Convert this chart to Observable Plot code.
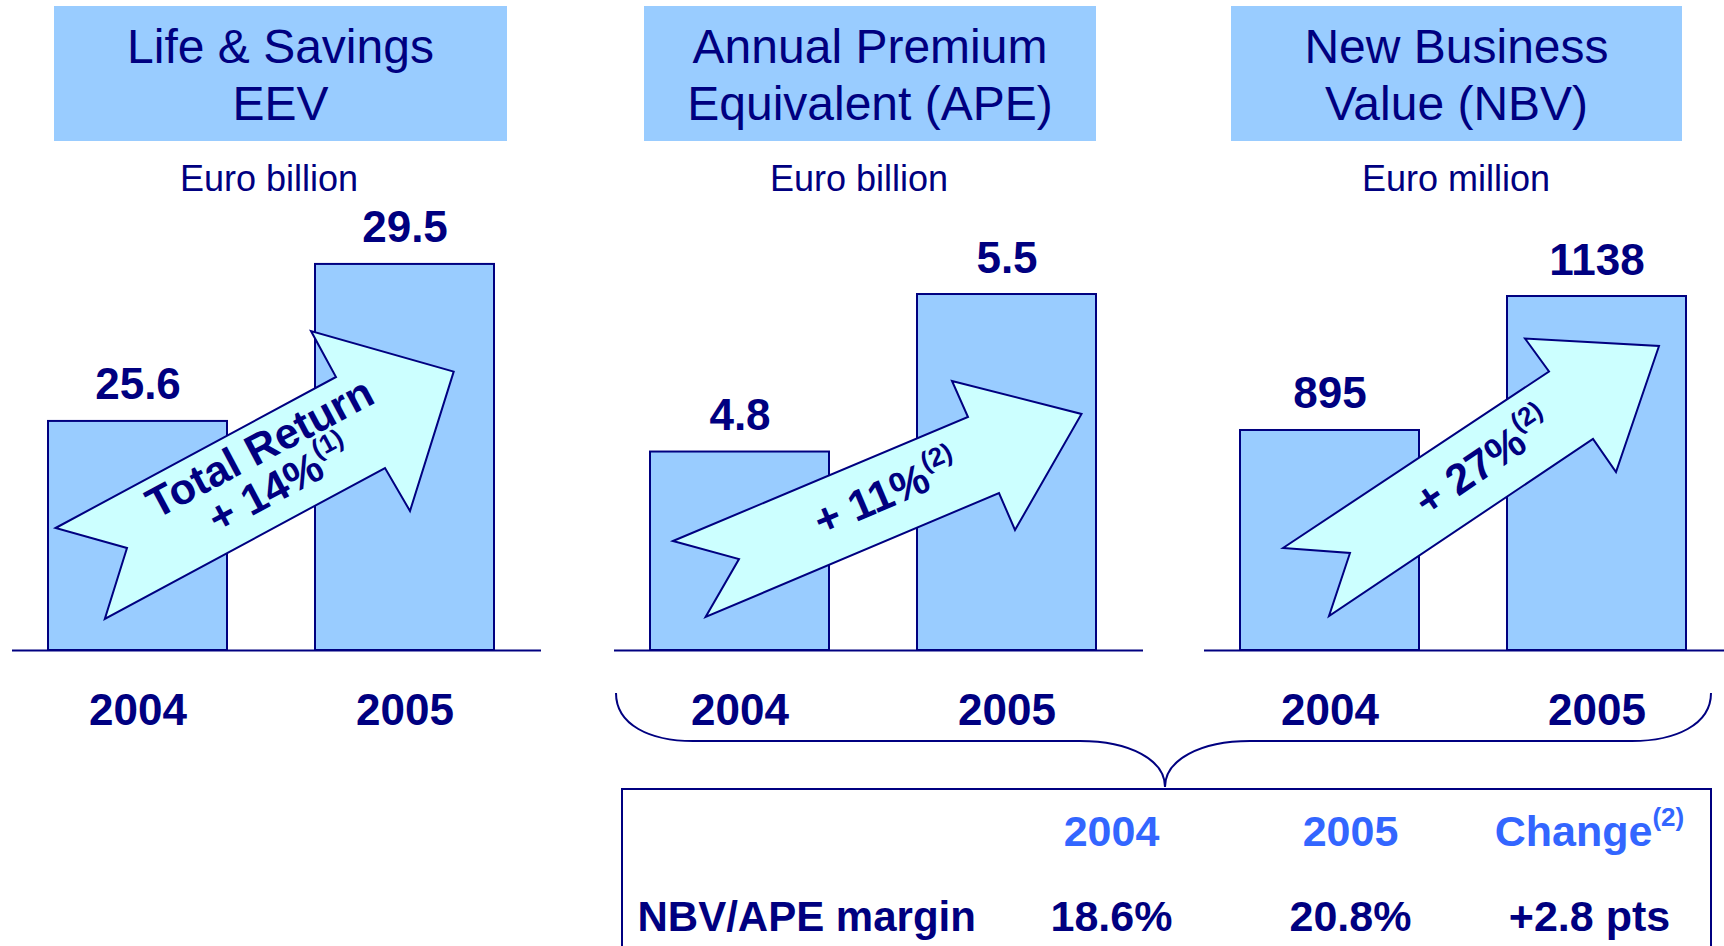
<!DOCTYPE html>
<html>
<head>
<meta charset="utf-8">
<script src="https://cdn.jsdelivr.net/npm/d3@7"></script>
<script src="https://cdn.jsdelivr.net/npm/@observablehq/plot@0.6"></script>
<style>
  html, body { margin: 0; padding: 0; background: #ffffff; }
  #root { position: relative; width: 1724px; height: 946px; overflow: hidden; background: #ffffff; }
  #root svg { position: absolute; }
</style>
</head>
<body>
<div id="root"></div>
<script>
// ---------------- DATA ----------------
const years = ["2004", "2005"];
const eevValues = [25.6, 29.5];      // Life & Savings EEV, Euro billion
const apeValues = [4.8, 5.5];        // Annual Premium Equivalent, Euro billion
const nbvValues = [895, 1138];       // New Business Value, Euro million
const panelTitles = [["Life & Savings", "EEV"], ["Annual Premium", "Equivalent (APE)"], ["New Business", "Value (NBV)"]];
const panelUnits = ["Euro billion", "Euro billion", "Euro million"];
const growthLines = [["Total Return", "+ 14%"], ["+ 11%"], ["+ 27%"]];
const growthNotes = ["(1)", "(2)", "(2)"];
const tableColumns = ["2004", "2005", "Change"];
const tableColumnNotes = ["", "", "(2)"];
const tableRowLabel = "NBV/APE margin";
const tableRowValues = ["18.6%", "20.8%", "+2.8 pts"];

// ---------------- STYLE / LAYOUT ----------------
const NAVY = "#000080", BAR = "#99CCFF", ARROW_FILL = "#CCFFFF", HEAD_BLUE = "#3366FF";
const FONT = '"Liberation Sans", Arial, Helvetica, sans-serif';
const PLOT_TOP = 150, PLOT_W = 529, PLOT_H = 600, PLOT_MB = 100;

const panels = [
  { values: eevValues, left: 12, yDomain: [19.91, 32.33], box: [54, 453], unitX: 269,
    arrow: [[55.6,528],[336,377],[311,331],[453.7,371.6],[410,511],[385,468],[104.8,619],[127,548]],
    label: { cx: 269.5, cy: 466, angle: -28 } },
  { values: apeValues, left: 613.5, yDomain: [3.918, 6.14], box: [644, 452], unitX: 859,
    arrow: [[673,541],[968,417],[952,381],[1081.5,414],[1015,530],[999,493],[705.6,617],[739,559]],
    label: { cx: 886, cy: 493, angle: -23 } },
  { values: nbvValues, left: 1204, yDomain: [496, 1402.8], box: [1231, 451], unitX: 1456,
    arrow: [[1283,548],[1549,371.5],[1525,338.5],[1659,346],[1616,472],[1593,439],[1329,616],[1350,553]],
    label: { cx: 1483, cy: 462, angle: -34 } }
];

const root = document.getElementById("root");

// ---------------- BAR PANELS (Observable Plot) ----------------
panels.forEach((p, i) => {
  const data = years.map((y, j) => ({ year: y, value: p.values[j] }));
  const base = p.yDomain[0];
  const chart = Plot.plot({
    width: PLOT_W, height: PLOT_H,
    marginTop: 0, marginBottom: PLOT_MB, marginLeft: 0, marginRight: 0,
    style: { background: "none", overflow: "visible", fontFamily: FONT },
    x: { domain: years, paddingInner: 0.328, paddingOuter: 0.153, align: 0.44, axis: null },
    y: { domain: p.yDomain, axis: null },
    marks: [
      Plot.barY(data, { x: "year", y1: base, y2: "value", fill: BAR, stroke: NAVY, strokeWidth: 2 }),
      Plot.ruleY([base], { stroke: NAVY, strokeWidth: 2 }),
      Plot.text(data, { x: "year", y: "value", text: d => String(d.value), dy: -22, lineAnchor: "bottom",
        fontSize: 44, fontWeight: "bold", fill: NAVY, fontFamily: FONT }),
      Plot.text(data, { x: "year", y: base, text: "year", dy: 74, lineAnchor: "bottom",
        fontSize: 44, fontWeight: "bold", fill: NAVY, fontFamily: FONT })
    ]
  });
  chart.style.left = p.left + "px";
  chart.style.top = PLOT_TOP + "px";
  root.appendChild(chart);
});

// ---------------- TABLE (Observable Plot) ----------------
const TABLE_LEFT = 622, TABLE_TOP = 786, TABLE_W = 1089, TABLE_H = 160;
const headData = tableColumns.map((c, i) => ({ row: "head", col: c, text: c }));
const valueData = tableColumns.map((c, i) => ({ row: "values", col: c, text: tableRowValues[i] }));
const table = Plot.plot({
  width: TABLE_W, height: TABLE_H, margin: 0,
  style: { background: "none", overflow: "visible", fontFamily: FONT },
  x: { type: "point", domain: tableColumns, range: [489, 967], padding: 0, axis: null },
  y: { type: "point", domain: ["head", "values"], range: [59, 144], padding: 0, axis: null },
  marks: [
    Plot.text(headData, { x: "col", y: "row", text: "text", lineAnchor: "bottom",
      fontSize: 43, fontWeight: "bold", fill: HEAD_BLUE, fontFamily: FONT, className: "table-head" }),
    Plot.text(valueData, { x: "col", y: "row", text: "text", lineAnchor: "bottom",
      fontSize: 43, fontWeight: "bold", fill: NAVY, fontFamily: FONT }),
    Plot.text([tableRowLabel], { frameAnchor: "left", y: () => "values", text: d => d, dx: 15,
      textAnchor: "start", lineAnchor: "bottom", fontSize: 42, fontWeight: "bold", fill: NAVY, fontFamily: FONT })
  ]
});
table.style.left = TABLE_LEFT + "px";
table.style.top = TABLE_TOP + "px";
root.appendChild(table);
// footnote superscripts on header cells
d3.select(table).selectAll("g.table-head text").each(function () {
  const idx = tableColumns.indexOf(this.textContent);
  if (idx >= 0 && tableColumnNotes[idx]) {
    d3.select(this).append("tspan").attr("font-size", 26).attr("dy", -20).text(tableColumnNotes[idx]);
  }
});

// ---------------- ANNOTATION OVERLAY ----------------
const ov = d3.select(root).append("svg")
  .attr("width", 1724).attr("height", 946)
  .style("left", "0px").style("top", "0px").style("pointer-events", "none")
  .attr("font-family", FONT);

panels.forEach((p, i) => {
  // title box
  ov.append("rect").attr("x", p.box[0]).attr("y", 6).attr("width", p.box[1]).attr("height", 135).attr("fill", BAR);
  panelTitles[i].forEach((line, k) => {
    ov.append("text").attr("x", p.box[0] + p.box[1] / 2).attr("y", 63 + k * 57)
      .attr("text-anchor", "middle").attr("font-size", 48).attr("fill", NAVY).text(line);
  });
  // unit
  ov.append("text").attr("x", p.unitX).attr("y", 191).attr("text-anchor", "middle")
    .attr("font-size", 36).attr("fill", NAVY).text(panelUnits[i]);
  // growth arrow
  ov.append("path").attr("d", d3.line()(p.arrow) + "Z")
    .attr("fill", ARROW_FILL).attr("stroke", NAVY).attr("stroke-width", 2).attr("stroke-linejoin", "miter");
  const g = ov.append("g").attr("transform", `translate(${p.label.cx},${p.label.cy}) rotate(${p.label.angle})`);
  const lines = growthLines[i], n = lines.length;
  lines.forEach((line, k) => {
    const t = g.append("text").attr("x", 0).attr("y", (k - (n - 1) / 2) * 42 + 15)
      .attr("text-anchor", "middle").attr("font-size", 43).attr("font-weight", "bold").attr("fill", NAVY).text(line);
    if (k === n - 1) t.append("tspan").attr("font-size", 26).attr("dy", -20).text(growthNotes[i]);
  });
});

// brace joining APE and NBV
ov.append("path")
  .attr("d", "M616,693 C616,725 650,741 693,741 L1080,741 C1130,741 1165,760 1165,787 C1165,760 1200,741 1250,741 L1632,741 C1675,741 1711,725 1711,693")
  .attr("fill", "none").attr("stroke", NAVY).attr("stroke-width", 2);
// table border
ov.append("path").attr("d", "M622,960 V789 H1711 V960")
  .attr("fill", "none").attr("stroke", NAVY).attr("stroke-width", 2);
</script>
</body>
</html>
